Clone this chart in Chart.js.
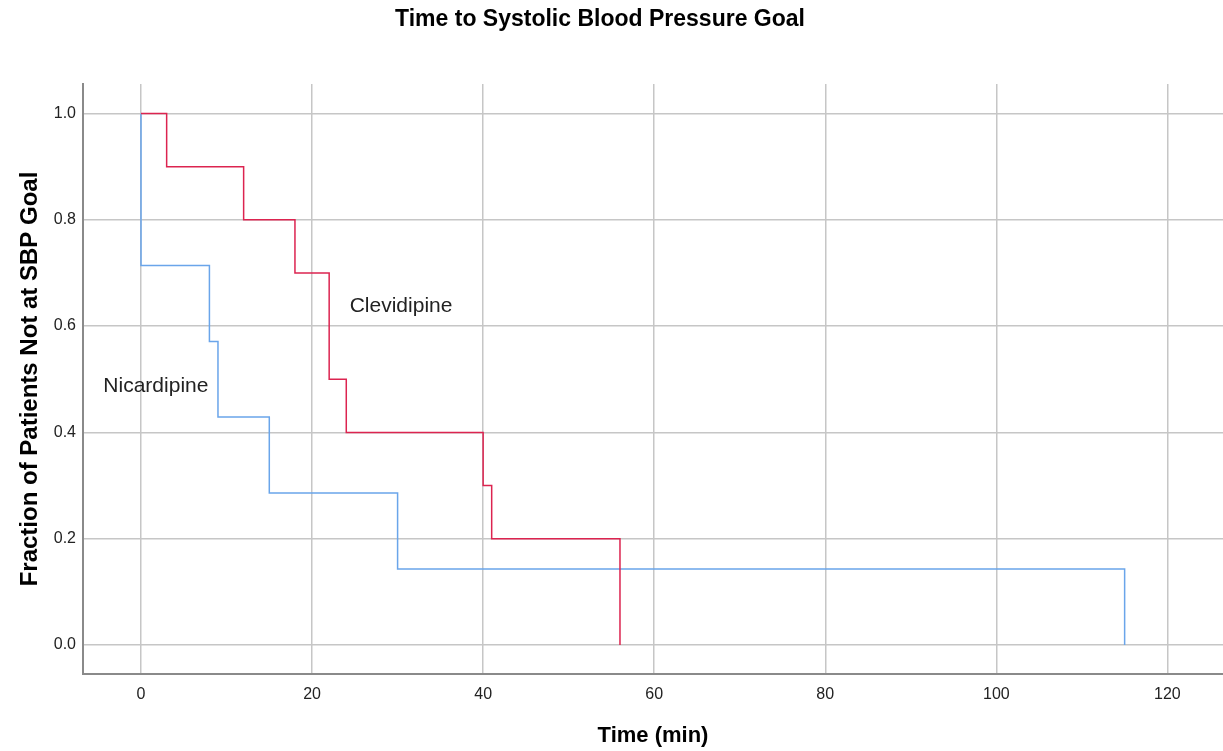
<!DOCTYPE html>
<html lang="en">
<head>
    <meta charset="UTF-8">
    <title>Time to Systolic Blood Pressure Goal</title>
    <style>
        html, body { margin: 0; padding: 0; background: #ffffff; }
        #chartBox { width: 1223px; height: 751px; position: relative; }
    </style>
</head>
<body>
    <div id="chartBox"><canvas id="kmChart"></canvas></div>
    <script src="https://cdn.jsdelivr.net/npm/chart.js@4/dist/chart.umd.min.js"></script>
    <script>
        // Kaplan-Meier steps (time in min, fraction not at goal)
        const clevTimes = [0, 3, 12, 18, 22, 24, 40, 41, 56];
        const clevFrac = [1.0, 0.9, 0.8, 0.7, 0.5, 0.4, 0.3, 0.2, 0.0];
        const nicaTimes = [0, 0, 8, 9, 15, 30, 115];
        const nicaFrac = [1.0, 0.714, 0.571, 0.429, 0.286, 0.143, 0.0];

        const xTicks = [0, 20, 40, 60, 80, 100, 120];
        const yTicks = [0.0, 0.2, 0.4, 0.6, 0.8, 1.0];

        // text labels next to the curves, in data units
        const curveLabels = [
            { text: "Clevidipine", x: 24.4, y: 0.637 },
            { text: "Nicardipine", x: -4.4, y: 0.486 }
        ];

        const chartTitle = "Time to Systolic Blood Pressure Goal";

        const toPoints = (xs, ys) => xs.map((x, i) => ({ x: x, y: ys[i] }));

        const labelPlugin = {
            id: "labelPlugin",
            afterDraw(chart) {
                const ctx = chart.ctx;
                const xs = chart.scales.x, ys = chart.scales.y;
                ctx.save();
                ctx.fillStyle = "#222";
                ctx.textBaseline = "middle";
                ctx.textAlign = "left";
                ctx.font = "21px 'Liberation Sans', Arial, sans-serif";
                curveLabels.forEach(l => {
                    ctx.fillText(l.text, xs.getPixelForValue(l.x), ys.getPixelForValue(l.y));
                });
                ctx.fillStyle = "#000";
                ctx.textAlign = "center";
                ctx.font = "bold 23px 'Liberation Sans', Arial, sans-serif";
                ctx.fillText(chartTitle, 600, 20);
                ctx.restore();
            }
        };

        const gridColor = "#c6c6c6";
        const fontFam = "'Liberation Sans', Arial, sans-serif";

        new Chart(document.getElementById("kmChart"), {
            type: "line",
            data: {
                datasets: [
                    {
                        label: "Clevidipine",
                        data: toPoints(clevTimes, clevFrac),
                        borderColor: "#dc2450",
                        borderWidth: 1.5,
                        stepped: "before",
                        pointRadius: 0,
                        fill: false
                    },
                    {
                        label: "Nicardipine",
                        data: toPoints(nicaTimes, nicaFrac),
                        borderColor: "#6aa5ea",
                        borderWidth: 1.5,
                        stepped: "before",
                        pointRadius: 0,
                        fill: false
                    }
                ]
            },
            options: {
                responsive: true,
                maintainAspectRatio: false,
                animation: false,
                layout: { padding: { top: 84, right: 0, bottom: 0, left: 0 } },
                plugins: {
                    legend: { display: false },
                    tooltip: { enabled: false },
                    title: { display: false }
                },
                scales: {
                    x: {
                        type: "linear",
                        min: -6.78,
                        max: 126.5,
                        afterBuildTicks: s => { s.ticks = xTicks.map(v => ({ value: v })); },
                        afterFit: s => { s.height = 77; },
                        grid: { color: gridColor, lineWidth: 1.5, drawTicks: false },
                        border: { color: "#8a8a8a", width: 2 },
                        ticks: {
                            padding: 11,
                            color: "#222",
                            font: { family: fontFam, size: 16 },
                            callback: v => String(v)
                        },
                        title: {
                            display: true,
                            text: "Time (min)",
                            color: "#000",
                            font: { family: fontFam, size: 22, weight: "bold" },
                            padding: { top: 0, bottom: 2 }
                        }
                    },
                    y: {
                        min: -0.0546,
                        max: 1.0555,
                        afterBuildTicks: s => { s.ticks = yTicks.map(v => ({ value: v })); },
                        afterFit: s => { s.width = 83; },
                        grid: { color: gridColor, lineWidth: 1.5, drawTicks: false },
                        border: { color: "#8a8a8a", width: 2 },
                        ticks: {
                            padding: 7,
                            color: "#222",
                            font: { family: fontFam, size: 16 },
                            callback: v => Number(v).toFixed(1)
                        },
                        title: {
                            display: true,
                            text: "Fraction of Patients Not at SBP Goal",
                            color: "#000",
                            font: { family: fontFam, size: 24, weight: "bold" },
                            padding: { top: 16, bottom: 0 }
                        }
                    }
                }
            },
            plugins: [labelPlugin]
        });
    </script>
</body>
</html>
